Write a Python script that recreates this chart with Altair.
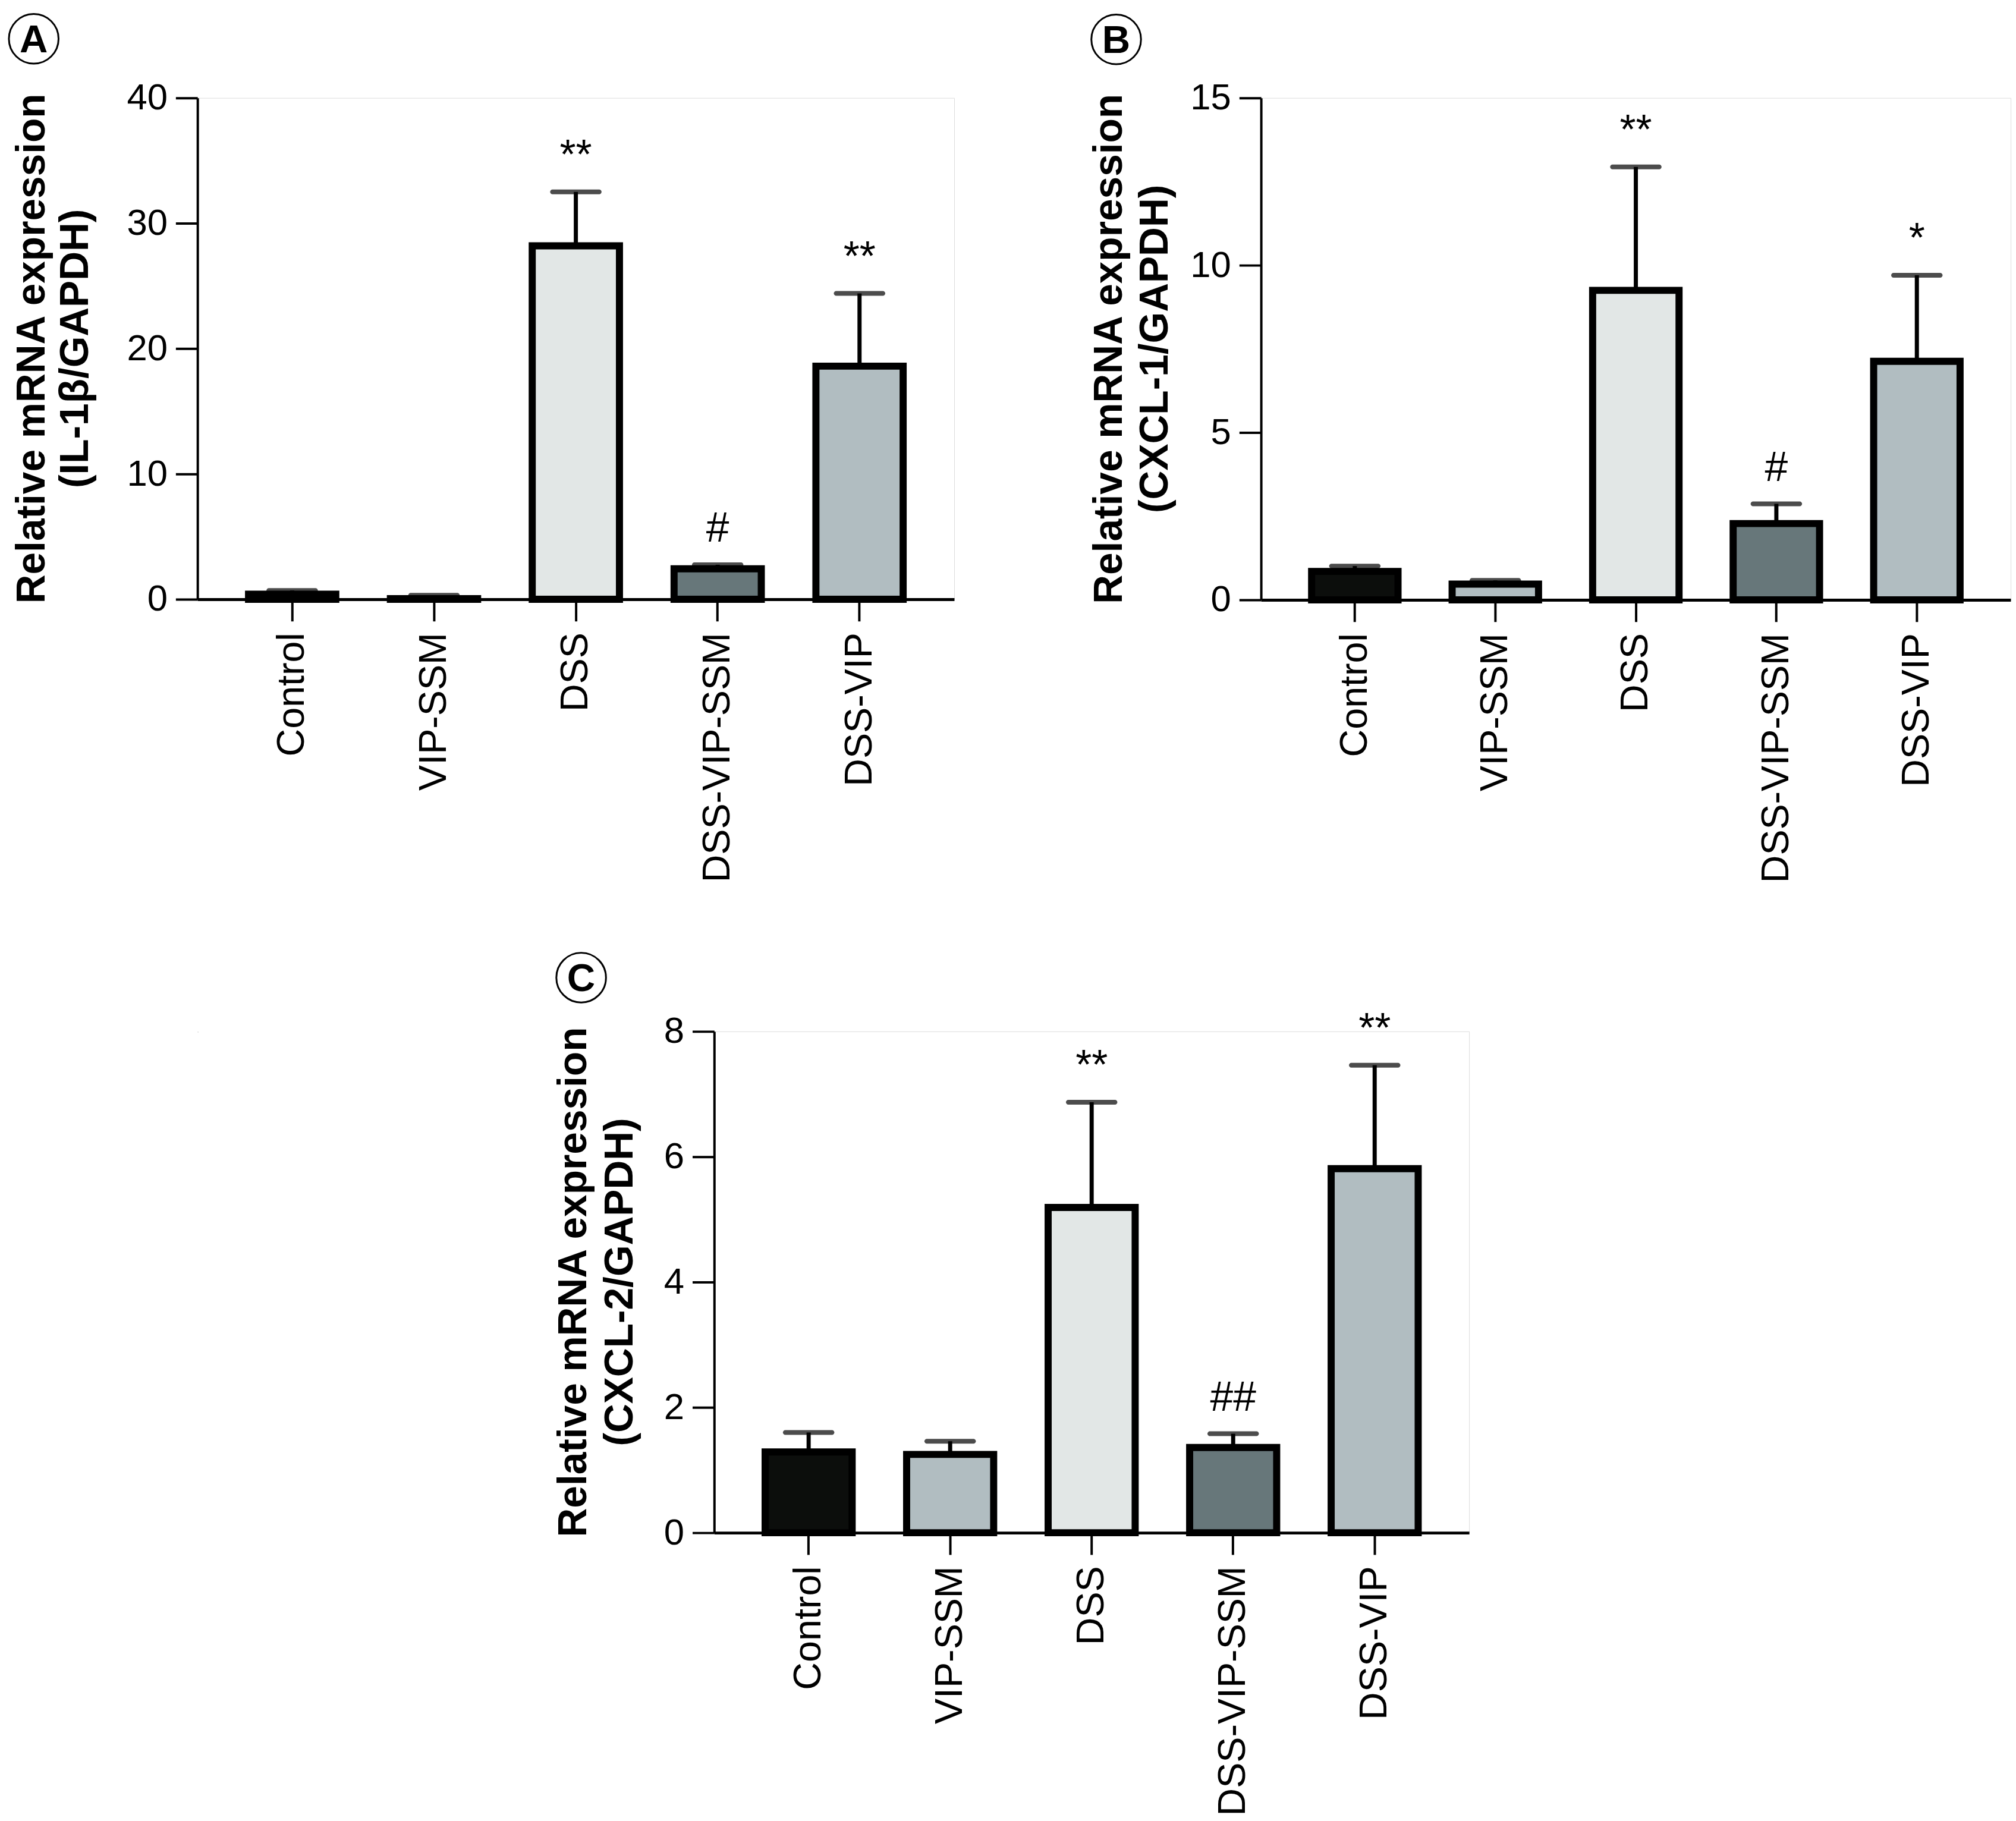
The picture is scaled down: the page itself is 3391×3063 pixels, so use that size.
import altair as alt
import pandas as pd

groups = ["Control", "VIP-SSM", "DSS", "DSS-VIP-SSM", "DSS-VIP"]
fills = ["#0c0e0c", "#b1bdc1", "#e2e7e6", "#67777a", "#b1bdc1"]

il1b_mean = [0.40, 0.05, 28.2, 2.43, 18.6]
il1b_sd = [0.30, 0.27, 4.3, 0.32, 5.8]
il1b_annot = ["", "", "**", "#", "**"]

cxcl1_mean = [0.85, 0.47, 9.25, 2.28, 7.13]
cxcl1_sd = [0.16, 0.11, 3.69, 0.59, 2.57]
cxcl1_annot = ["", "", "**", "#", "*"]

cxcl2_mean = [1.29, 1.25, 5.19, 1.36, 5.81]
cxcl2_sd = [0.31, 0.21, 1.68, 0.22, 1.65]
cxcl2_annot = ["", "", "**", "##", "**"]

title_line1 = "Relative mRNA expression"

FONT = "Liberation Sans, Arial, Helvetica, sans-serif"


def panel(letter, means, sds, annots, ymax, yticks, title2, width, height,
          t1_x, t2_x, circ_x, circ_y):
    df = pd.DataFrame({
        "group": groups,
        "mean": means,
        "sd": sds,
        "annot": annots,
    })
    df["upper"] = df["mean"] + df["sd"]

    x = alt.X(
        "group:N", sort=groups,
        scale=alt.Scale(paddingInner=0.385, paddingOuter=0.36),
        axis=alt.Axis(
            title=None, labelAngle=270, labelFontSize=65, labelFont=FONT,
            labelColor="black", labelPadding=19, labelLimit=2000,
            tickSize=37, tickWidth=4, tickColor="black",
            domainColor="black", domainWidth=5,
        ),
    )
    y = alt.Y(
        "mean:Q",
        scale=alt.Scale(domain=[0, ymax], nice=False),
        axis=alt.Axis(
            values=yticks, grid=False, title=None, format="d",
            labelFontSize=62, labelFont=FONT, labelColor="black",
            labelPadding=14, tickSize=37, tickWidth=4, tickColor="black",
            domainColor="black", domainWidth=4,
        ),
    )
    base = alt.Chart(df).encode(x=x)
    bars = base.mark_bar(stroke="black", strokeWidth=12, strokeJoin="miter").encode(
        y=y,
        color=alt.Color("group:N", scale=alt.Scale(domain=groups, range=fills), legend=None),
    )
    err = base.mark_rule(color="black", strokeWidth=7).encode(
        y="mean:Q", y2="upper:Q"
    )
    caps = base.mark_tick(color="black", thickness=8, size=87, cornerRadius=4).encode(
        y="upper:Q"
    )
    ann = base.mark_text(
        fontSize=70, font=FONT, color="black", baseline="middle", dy=-60
    ).encode(y="upper:Q", text="annot:N")

    lab_df = pd.DataFrame({"panel": [letter], "t1": [title_line1], "t2": [title2]})
    circ = alt.Chart(lab_df).mark_point(
        shape="circle", size=7056, filled=False, stroke="black", strokeWidth=3, opacity=1
    ).encode(x=alt.value(circ_x), y=alt.value(circ_y))
    lab = alt.Chart(lab_df).mark_text(
        fontSize=66, fontWeight="bold", font=FONT, color="black", baseline="middle", dy=3
    ).encode(x=alt.value(circ_x), y=alt.value(circ_y), text="panel:N")
    t1 = alt.Chart(lab_df).mark_text(
        fontSize=68, fontWeight="bold", font=FONT, color="black",
        angle=270, align="center", baseline="middle"
    ).encode(x=alt.value(t1_x), y=alt.value(height / 2), text="t1:N")
    t2 = alt.Chart(lab_df).mark_text(
        fontSize=68, fontWeight="bold", font=FONT, color="black",
        angle=270, align="center", baseline="middle"
    ).encode(x=alt.value(t2_x), y=alt.value(height / 2), text="t2:N")

    return alt.layer(bars, err, caps, ann, circ, lab, t1, t2).properties(
        width=width, height=height
    )


pA = panel("A", il1b_mean, il1b_sd, il1b_annot, 40, [0, 10, 20, 30, 40],
           "(IL-1\u03b2/GAPDH)", 1280, 848, -279, -205, -277, -100)
pB = panel("B", cxcl1_mean, cxcl1_sd, cxcl1_annot, 15, [0, 5, 10, 15],
           "(CXCL-1/GAPDH)", 1268, 849, -255, -178, -245, -99)
pC = panel("C", cxcl2_mean, cxcl2_sd, cxcl2_annot, 8, [0, 2, 4, 6, 8],
           "(CXCL-2/GAPDH)", 1277, 848, -236, -158, -225, -91)

spacer = alt.Chart(pd.DataFrame({"s": [0]})).mark_rule(opacity=0).encode(
    x=alt.value(0), x2=alt.value(1), y=alt.value(0)
).properties(width=1, height=1)

top = alt.hconcat(pA, pB, spacing=224)
bottom = alt.hconcat(spacer, pC, spacing=598)
chart = alt.vconcat(top, bottom, spacing=110).properties(
    padding=0
).configure_view(stroke=None).configure(font=FONT)

chart.save("out.html", embed_options={"renderer": "svg", "actions": False})
